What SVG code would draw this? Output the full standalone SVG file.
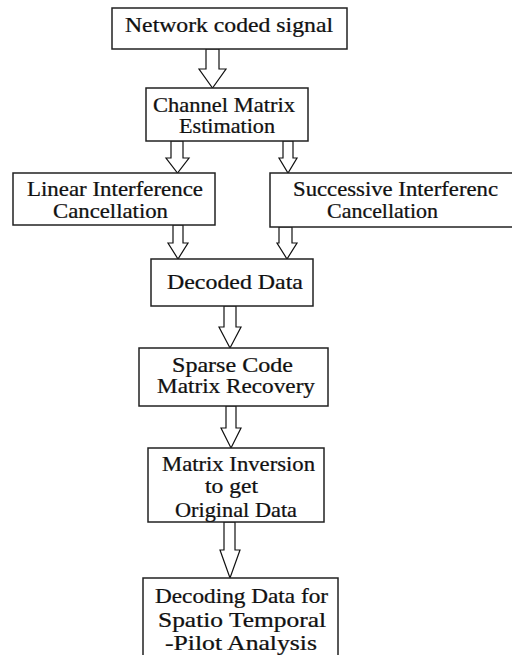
<svg xmlns="http://www.w3.org/2000/svg" width="512" height="655" viewBox="0 0 512 655">
<style>
.box{fill:#fff;stroke:#222;stroke-width:1.5}
.arr{fill:#fff;stroke:#111;stroke-width:1.2;stroke-linejoin:miter}
text{font-family:"Liberation Serif","Times New Roman",serif;font-size:20.5px;fill:#111;stroke:#111;stroke-width:0.25}
</style>
<rect width="512" height="655" fill="#fff"/>
<g id="connectors">
<path class="arr" d="M206,49 V69 H199 L212.5,88 L226,69 H219 V49 Z"/>
<path class="arr" d="M171,141 V158 H166 L177.5,173 L189,158 H183 V141 Z"/>
<path class="arr" d="M283,141 V158 H279 L288,173 L297,158 H293 V141 Z"/>
<path class="arr" d="M173,225 V243 H168 L178,259 L188,243 H183 V225 Z"/>
<path class="arr" d="M279,227 V243 H277 L287,259 L297,243 H292 V227 Z"/>
<path class="arr" d="M224,306 V327 H219 L230,348 L241,327 H236 V306 Z"/>
<path class="arr" d="M226,406 V428 H221 L231,448 L241,428 H236 V406 Z"/>
<path class="arr" d="M224,522 V550 H220 L230,578 L240,550 H235 V522 Z"/>
</g>
<g id="n1">
<rect class="box" x="112" y="8" width="235" height="41"/>
<g transform="scale(1.2,1)"><text x="104.17" y="32" textLength="173.33" lengthAdjust="spacingAndGlyphs">Network coded signal</text></g>
</g>
<g id="n2">
<rect class="box" x="146" y="88" width="162" height="53"/>
<g transform="scale(1.2,1)">
<text x="127.5" y="112" textLength="118.33" lengthAdjust="spacingAndGlyphs">Channel Matrix</text>
<text x="149.17" y="133" textLength="80" lengthAdjust="spacingAndGlyphs">Estimation</text>
</g>
</g>
<g id="n3">
<rect class="box" x="13" y="173" width="202" height="52"/>
<g transform="scale(1.2,1)">
<text x="22.5" y="196" textLength="146.67" lengthAdjust="spacingAndGlyphs">Linear Interference</text>
<text x="44.17" y="218" textLength="95.83" lengthAdjust="spacingAndGlyphs">Cancellation</text>
</g>
</g>
<g id="n4">
<rect class="box" x="270" y="173" width="260" height="54"/>
<g transform="scale(1.2,1)">
<text x="244.17" y="196" textLength="170.83" lengthAdjust="spacingAndGlyphs">Successive Interferenc</text>
<text x="272.5" y="218" textLength="92.5" lengthAdjust="spacingAndGlyphs">Cancellation</text>
</g>
</g>
<g id="n5">
<rect class="box" x="151" y="259" width="162" height="47"/>
<g transform="scale(1.2,1)"><text x="139.17" y="289" textLength="113.33" lengthAdjust="spacingAndGlyphs">Decoded Data</text></g>
</g>
<g id="n6">
<rect class="box" x="139" y="348" width="189" height="58"/>
<g transform="scale(1.2,1)">
<text x="143.33" y="372" textLength="100.83" lengthAdjust="spacingAndGlyphs">Sparse Code</text>
<text x="130.83" y="393" textLength="131.67" lengthAdjust="spacingAndGlyphs">Matrix Recovery</text>
</g>
</g>
<g id="n7">
<rect class="box" x="148" y="448" width="176" height="74"/>
<g transform="scale(1.2,1)">
<text x="135" y="471" textLength="127.5" lengthAdjust="spacingAndGlyphs">Matrix Inversion</text>
<text x="170.83" y="493" textLength="44.17" lengthAdjust="spacingAndGlyphs">to get</text>
<text x="145.83" y="517" textLength="101.67" lengthAdjust="spacingAndGlyphs">Original Data</text>
</g>
</g>
<g id="n8">
<rect class="box" x="143" y="578" width="195" height="90"/>
<g transform="scale(1.2,1)">
<text x="129.17" y="603" textLength="144.17" lengthAdjust="spacingAndGlyphs">Decoding Data for</text>
<text x="131.67" y="627" textLength="140" lengthAdjust="spacingAndGlyphs">Spatio Temporal</text>
<text x="137.5" y="650" textLength="126.67" lengthAdjust="spacingAndGlyphs">-Pilot Analysis</text>
</g>
</g>
</svg>
